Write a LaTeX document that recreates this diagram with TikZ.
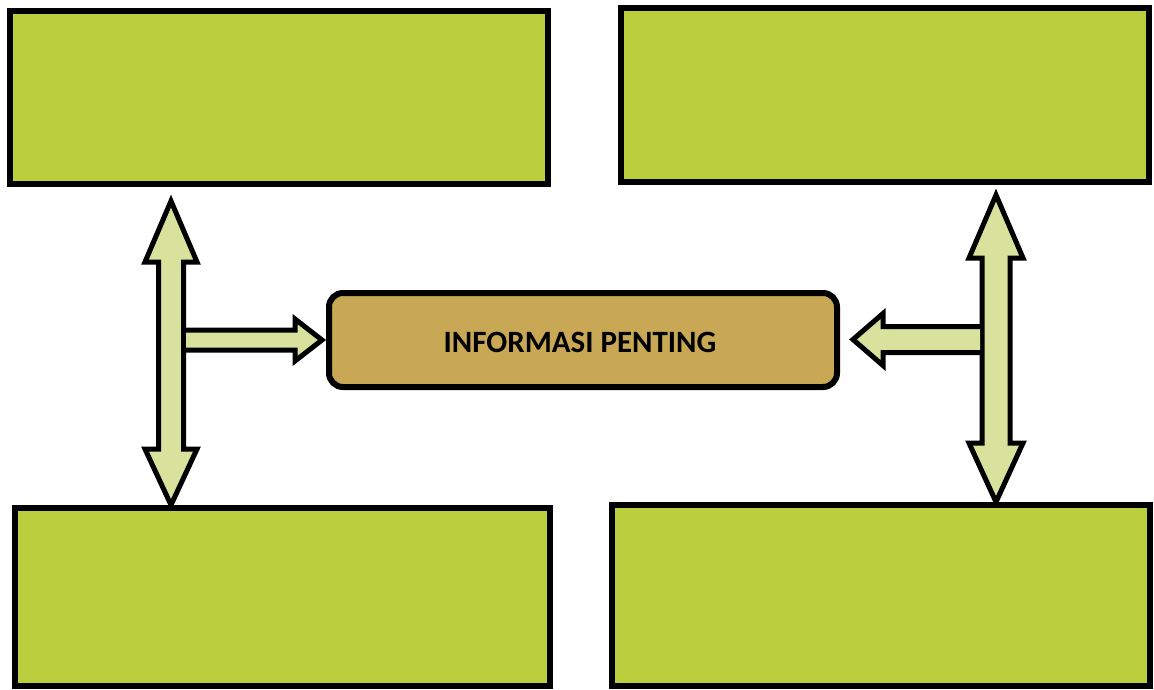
\documentclass[tikz,border=0pt]{standalone}
\usepackage{fontspec}
\newfontfamily\carlito{Carlito}
\definecolor{boxgreen}{RGB}{186,206,62}
\definecolor{arrowfill}{RGB}{216,226,156}
\definecolor{infogold}{RGB}{200,168,84}
\tikzset{
  panel/.style={draw=black, line width=6pt, fill=boxgreen, inner sep=0pt},
  infobox/.style={draw=black, line width=6pt, fill=infogold, rounded corners=14pt, inner sep=0pt},
  infofont/.style={font=\carlito\bfseries\fontsize{31}{36}\selectfont, inner sep=0pt},
  arrowbody/.style={draw=black, line width=5pt, fill=arrowfill, miter limit=10},
}
\begin{document}
\begin{tikzpicture}[x=1pt,y=-1pt]
\useasboundingbox (0,0) rectangle (1154,689);
% panels
\node[panel, minimum width=538pt, minimum height=173pt] (tl) at (279,97.5) {};
\node[panel, minimum width=528pt, minimum height=174pt] (tr) at (885,95) {};
\node[panel, minimum width=535pt, minimum height=178pt] (bl) at (282.5,597) {};
\node[panel, minimum width=538pt, minimum height=181pt] (br) at (881,595.5) {};
% central node
\node[infobox, minimum width=508pt, minimum height=94pt] (info) at (583,340) {};
\node[infofont] (infotext) at (580,342) {INFORMASI PENTING};
% left double arrow
\coordinate (lt) at (171,201);
\coordinate (lb) at (171,505);
\draw[arrowbody] (lt) -- ++(26,61) -- ++(-13.5,0) -- (183.5,449) -- ++(13.5,0) -- (lb)
  -- ++(-26,-56) -- ++(13.5,0) -- (158.5,262) -- ++(-13.5,0) -- cycle;
% left horizontal arrow
\fill[arrowfill] (186,330) -- (295,330) -- (295,319) -- (322,340) -- (295,361) -- (295,350) -- (186,350) -- cycle;
\draw[arrowbody, fill=none] (183.5,330) -- (295,330) -- (295,319) -- (322,340) -- (295,361) -- (295,350) -- (183.5,350);
% right double arrow
\coordinate (rt) at (996,195);
\coordinate (rb) at (996,502);
\draw[arrowbody] (rt) -- ++(27,63) -- ++(-13,0) -- (1010,443) -- ++(13,0) -- (rb)
  -- ++(-27,-59) -- ++(13,0) -- (982,258) -- ++(-13,0) -- cycle;
% right horizontal arrow
\fill[arrowfill] (980,326.5) -- (883,326.5) -- (883,313.5) -- (853,339.5) -- (883,365.5) -- (883,352.5) -- (980,352.5) -- cycle;
\draw[arrowbody, fill=none] (982,326.5) -- (883,326.5) -- (883,313.5) -- (853,339.5) -- (883,365.5) -- (883,352.5) -- (982,352.5);
\end{tikzpicture}
\end{document}
